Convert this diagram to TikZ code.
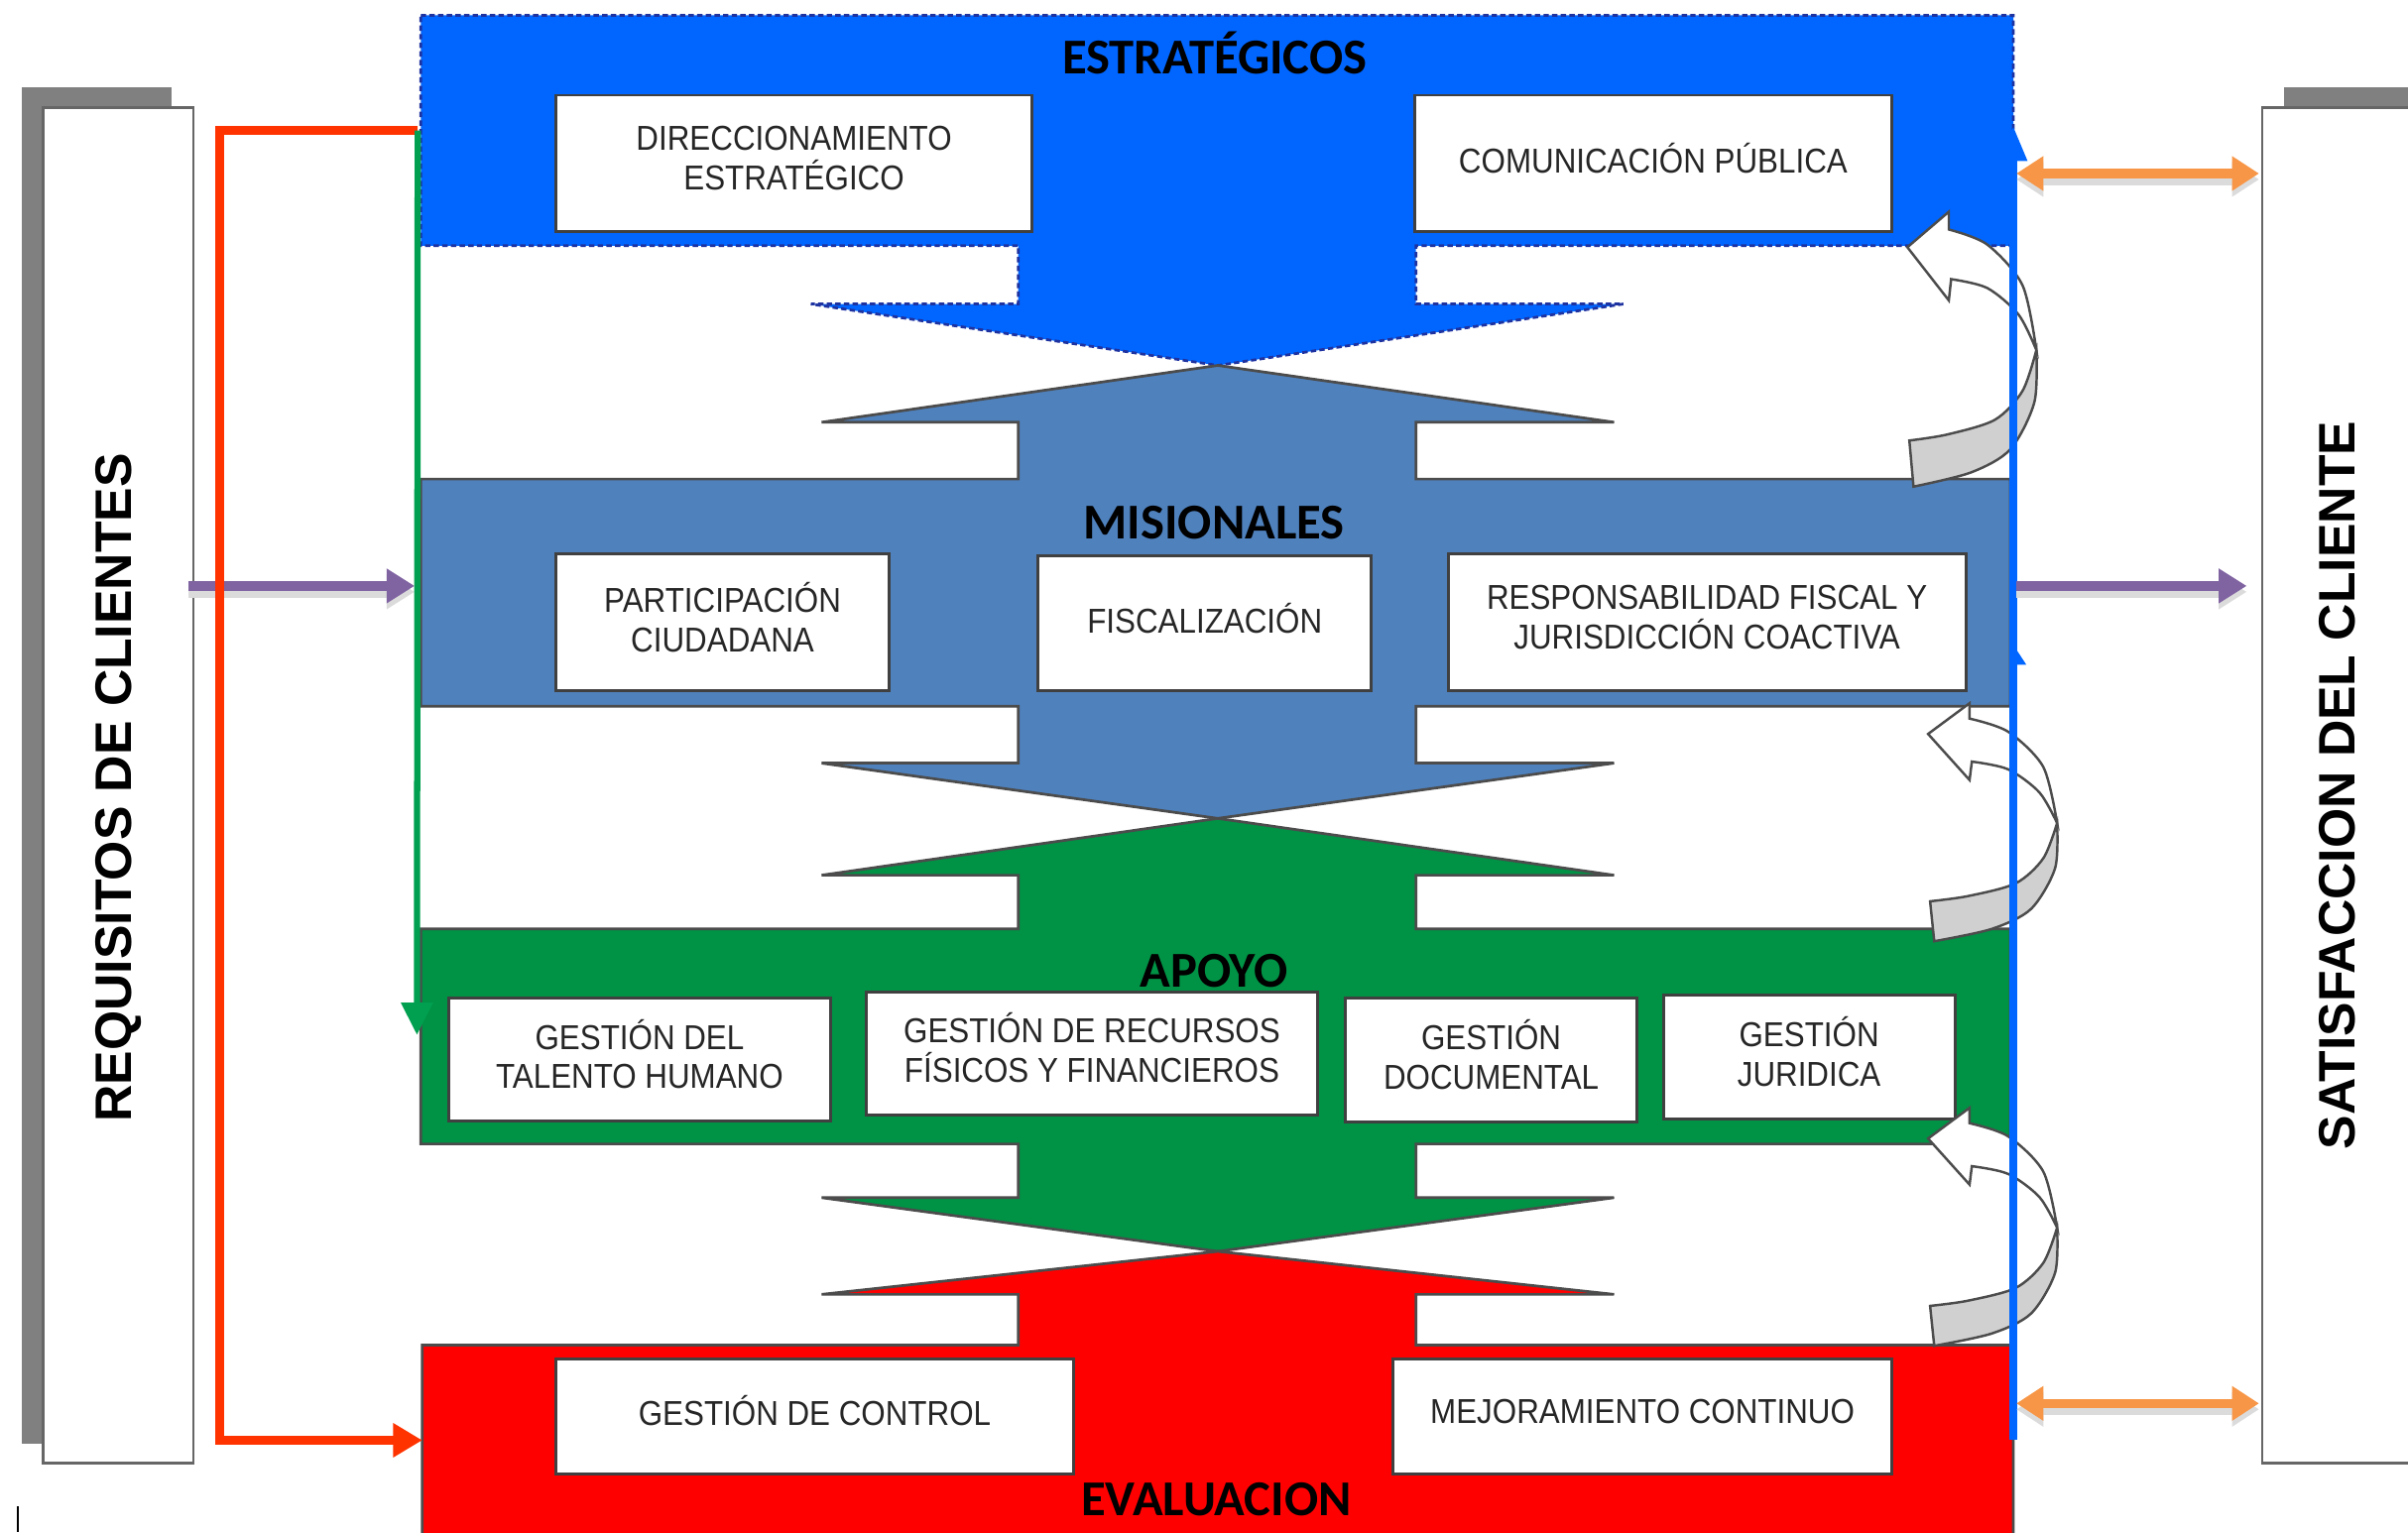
\documentclass[tikz,border=0pt]{standalone}
\usepackage{fontspec}
\setmainfont{Liberation Sans}
\newfontfamily\titlefont{Carlito}
\newfontfamily\boxfont[FakeStretch=0.9]{Liberation Sans}
\usetikzlibrary{arrows.meta}
\definecolor{estr}{RGB}{0,102,255}
\definecolor{estrb}{RGB}{30,50,160}
\definecolor{misi}{RGB}{79,129,189}
\definecolor{apoyo}{RGB}{0,146,69}
\definecolor{evalu}{RGB}{255,0,0}
\definecolor{redline}{RGB}{255,51,0}
\definecolor{purp}{RGB}{128,100,162}
\definecolor{oran}{RGB}{247,150,70}
\definecolor{greenline}{RGB}{0,160,80}
\definecolor{sideshade}{RGB}{128,128,128}
\definecolor{garrow}{RGB}{208,208,208}
\newcommand\procbox[6]{%
  \draw[pboxline] (#2,#3) rectangle (#4,#5);
  \node[ptext] (#1) at ({(#2+#4)/2},{(#3+#5)/2}) {#6};}
\newcommand\curvarrow[4]{%
  \begin{scope}[shift={(#2,#3)}, yscale=#4]
    \filldraw[garrowback] plot[smooth] coordinates {(0,0) (-1.3,29.4) (-17,56) (-42.6,69) (-80,77)}
      -- plot[smooth] coordinates {(-82.7,51) (-58,47.6) (-27,39.3) (-9,23) (0,0)} -- cycle;
    \filldraw[garrowfront] (-84,-58) -- (-57,-78) -- (-57,-68)
      -- plot[smooth] coordinates {(-57,-68) (-32,-59.5) (-9,-36.5) (0,0)}
      -- plot[smooth] coordinates {(0,0) (-11.6,-20) (-32,-35) (-55.5,-40)}
      -- (-57,-28) -- cycle;
    \coordinate (#1) at (0,0);
  \end{scope}}
\begin{document}
\begin{tikzpicture}[x=0.1mm,y=-0.1mm,
  pboxline/.style={draw=black!75, fill=white, line width=0.55pt},
  ptext/.style={font=\boxfont\fontsize{6.4}{7.3}\selectfont, text=black!85, align=center, inner sep=0pt, yshift=1pt},
  bandtitle/.style={font=\titlefont\bfseries\fontsize{9.3}{11}\selectfont, anchor=base, inner sep=0pt},
  sidetext/.style={font=\bfseries\fontsize{9.5}{11}\selectfont, rotate=90, inner sep=0pt},
  band/.style={draw=black!70, line width=0.5pt},
  garrowback/.style={fill=garrow, draw=black!70, line width=0.45pt},
  garrowfront/.style={fill=white, draw=black!70, line width=0.45pt},
  sidebox/.style={draw=black!60, fill=white, line width=0.5pt},
  softshadow/.style={preaction={draw=black!14, line width=2.2pt, transform canvas={yshift=-1.1pt}}},
  redconn/.style={draw=redline, line width=1.7pt, -{Triangle[length=5.4pt,width=6pt]}},
  greenconn/.style={draw=greenline, line width=1.15pt, -{Triangle[length=6pt,width=5.7pt]}},
  purpconn/.style={draw=purp, line width=1.7pt, -{Triangle[length=5.2pt,width=6.1pt]}},
  oranconn/.style={draw=oran, line width=1.7pt, {Triangle[length=5pt,width=6.1pt]}-{Triangle[length=5pt,width=6.1pt]}},
  blueconn/.style={draw=estr, line width=1.45pt, -{Triangle[length=6.5pt,width=4.8pt]}}
]
\clip (0,0) rectangle (1568,998);
\fill[white] (0,0) rectangle (1568,998);

% side panels
\fill[sideshade] (14,57) rectangle (112,940);
\draw[sidebox] (28,70) rectangle (126,953);
\node[sidetext] (req) at (77,513) {REQUISITOS DE CLIENTES};
\fill[sideshade] (1487,57) rectangle (1600,940);
\draw[sidebox] (1473,70) rectangle (1620,953);
\node[sidetext] (sat) at (1522,511.5) {SATISFACCION DEL CLIENTE};

% coordinates for connectors
\coordinate (J) at (272,85);
\coordinate (rc1) at (143,85);
\coordinate (rc2) at (143,938);
\coordinate (evin) at (275,938);
\coordinate (gend) at (271.5,674);
\coordinate (pl1) at (123,381.6);
\coordinate (pl2) at (270,381.6);
\coordinate (pr1) at (1313,381.6);
\coordinate (pr2) at (1463,381.6);
\coordinate (o1a) at (1313,113);
\coordinate (o1b) at (1471,113);
\coordinate (o2a) at (1313,914);
\coordinate (o2b) at (1471,914);
\coordinate (bb) at (1311,938);
\coordinate (bt) at (1311,82);

% purple arrow (under red line)
\draw[purpconn, softshadow] (pl1) -- (pl2);

% bands
\filldraw[fill=estr, draw=estrb, line width=0.5pt, dash pattern=on 1pt off 0.6pt]
  (274,10) -- (1311,10) -- (1311,160) -- (922,160) -- (922,198) -- (1057,198) -- (793,238)
  -- (528,198) -- (663,198) -- (663,160) -- (274,160) -- cycle;
\filldraw[band, fill=misi] (274,312) -- (663,312) -- (663,275) -- (535,275) -- (793,238)
  -- (1051,275) -- (922,275) -- (922,312) -- (1309,312) -- (1309,460) -- (922,460)
  -- (922,497) -- (1051,497) -- (793,533) -- (535,497) -- (663,497) -- (663,460)
  -- (274,460) -- cycle;
\filldraw[band, fill=apoyo] (274,605) -- (663,605) -- (663,570) -- (535,570) -- (793,533)
  -- (1051,570) -- (922,570) -- (922,605) -- (1309,605) -- (1309,745) -- (922,745)
  -- (922,780) -- (1051,780) -- (793,815) -- (535,780) -- (663,780) -- (663,745)
  -- (274,745) -- cycle;
\filldraw[band, fill=evalu] (275,876) -- (663,876) -- (663,843) -- (535,843) -- (793,815)
  -- (1051,843) -- (922,843) -- (922,876) -- (1311,876) -- (1311,1010) -- (275,1010) -- cycle;

% titles
\node[bandtitle] (testr) at (791,48.4) {ESTRATÉGICOS};
\node[bandtitle] (tmisi) at (790.5,351) {MISIONALES};
\node[bandtitle] (tapoyo) at (790.5,643) {APOYO};
\node[bandtitle] (teval) at (792,987) {EVALUACION};

% process boxes
\procbox{dir}{362}{62}{672}{151}{DIRECCIONAMIENTO\\ESTRATÉGICO}
\procbox{com}{921}{62}{1232}{151}{COMUNICACIÓN PÚBLICA}
\procbox{par}{362}{361}{579}{450}{PARTICIPACIÓN\\CIUDADANA}
\procbox{fis}{676}{362}{893}{450}{FISCALIZACIÓN}
\procbox{res}{943}{361}{1280}{450}{RESPONSABILIDAD FISCAL Y\\JURISDICCIÓN COACTIVA}
\procbox{tal}{292}{650}{541}{730}{GESTIÓN DEL\\TALENTO HUMANO}
\procbox{rec}{564}{646}{858}{726}{GESTIÓN DE RECURSOS\\FÍSICOS Y FINANCIEROS}
\procbox{doc}{876}{650}{1066}{731}{GESTIÓN\\DOCUMENTAL}
\procbox{jur}{1083}{648}{1273}{729}{GESTIÓN\\JURIDICA}
\procbox{con}{362}{885}{699}{960}{GESTIÓN DE CONTROL}
\procbox{mej}{907}{885}{1232}{960}{MEJORAMIENTO CONTINUO}

% left connectors
\draw[redconn] (J) -- (rc1) -- (rc2) -- (evin);
\draw[greenconn] (J) -- (gend);

% curved grey arrows
\curvarrow{ca1}{1326}{228}{1.155}
\curvarrow{ca2}{1339.5}{536}{1}
\curvarrow{ca3}{1339.5}{799.5}{1}

% blue feedback line
\draw[blueconn] (bb) -- (bt);
\fill[estr] (1311,420) -- (1319.5,433) -- (1311,433) -- cycle;

% right connectors
\draw[purpconn, softshadow] (pr1) -- (pr2);
\draw[oranconn, softshadow] (o1a) -- (o1b);
\draw[oranconn, softshadow] (o2a) -- (o2b);

% small mark
\draw[black, line width=0.35pt] (11.6,981) -- (11.6,998);
\end{tikzpicture}
\end{document}
